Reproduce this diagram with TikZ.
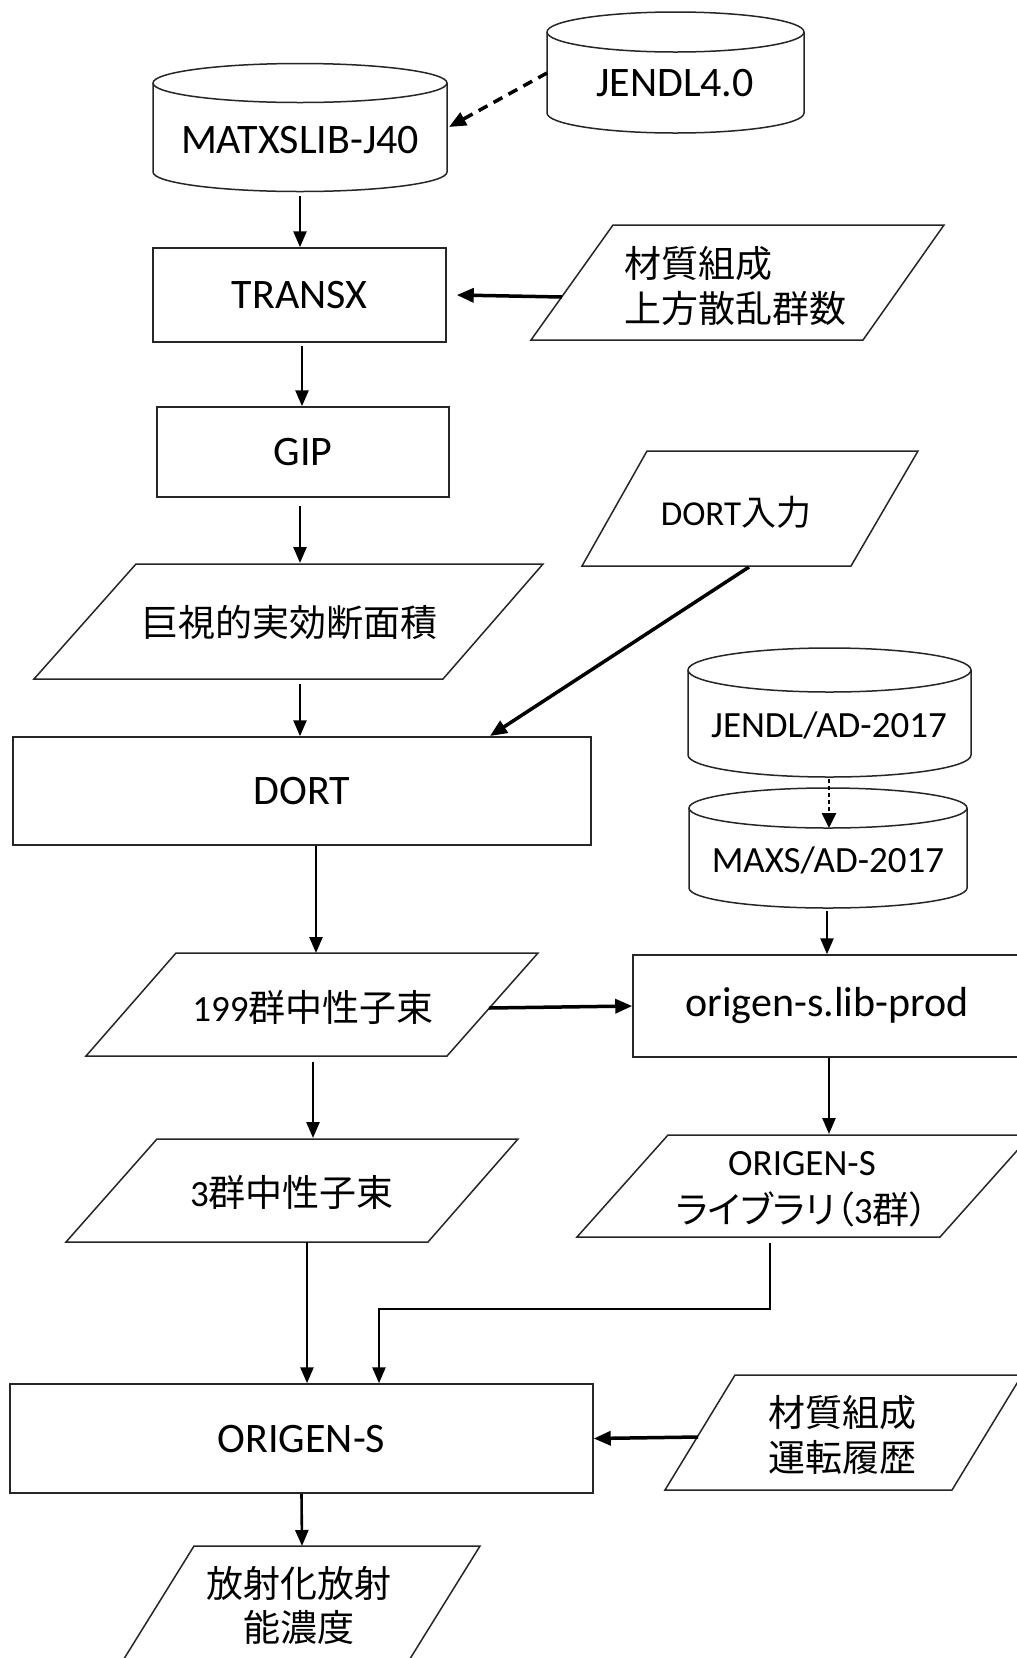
\documentclass[tikz,border=0pt]{standalone}
\usepackage{fontspec}
\setmainfont{Carlito}
\newfontfamily\jp{Noto Sans CJK JP}
\newfontfamily\jpprop[RawFeature=+palt]{Noto Sans CJK JP}
\usetikzlibrary{arrows.meta,calc}

\tikzset{
  outline/.style={draw=black!85, line width=1.5pt},
  boxnode/.style={outline, rectangle, inner sep=0pt},
  lbl/.style={font=\fontsize{42}{50}\selectfont, inner sep=0pt, align=center},
  smlbl/.style={font=\fontsize{37}{44}\selectfont, inner sep=0pt, align=center},
  jlbl/.style={font=\jp\fontsize{37}{45}\selectfont, inner sep=0pt, align=center},
  arr/.style={line width=2.6pt, -{Triangle[length=16pt,width=13pt]}},
  heavyarr/.style={line width=3.5pt, -{Triangle[length=17pt,width=14pt]}},
}

% cylinder outline: centre x, top ellipse y, bottom ellipse y, x radius, y radius
\newcommand\dbcyl[5]{%
  \draw[outline] (#1-#4,#2) -- (#1-#4,#3)
    arc[start angle=180,end angle=360,x radius=#4pt,y radius=#5pt]
    -- (#1+#4,#2)
    arc[start angle=0,end angle=180,x radius=#4pt,y radius=#5pt] -- cycle;
  \draw[outline] (#1-#4,#2) arc[start angle=180,end angle=360,x radius=#4pt,y radius=#5pt];
}
% parallelogram: top-left x, top-right x, top y, bottom-left x, bottom-right x, bottom y
\newcommand\slab[6]{%
  \draw[outline] (#1,#3) -- (#2,#3) -- (#5,#6) -- (#4,#6) -- cycle;
}

\begin{document}
\begin{tikzpicture}[x=1pt,y=-1pt]
\fill[white] (0,0) rectangle (1017,1658);
\useasboundingbox (0,0) rectangle (1017,1658);

% ---- nuclear data libraries ----
\dbcyl{675.5}{32}{113}{128.5}{20}
\node[lbl] (jendl) at (675,83) {JENDL4.0};
\coordinate (jendl-w) at (547,73);

\dbcyl{300}{83}{172}{147}{19.5}
\node[lbl] (matx) at (300,140) {MATXSLIB-J40};
\coordinate (matx-e) at (449,127);
\coordinate (matx-s) at (300,196);

\dbcyl{829.5}{670}{755}{141.5}{22}
\node[smlbl] (jad) at (829,725) {JENDL/AD-2017};
\coordinate (jad-s) at (829,779);

\dbcyl{828}{808}{888}{139}{20}
\node[smlbl] (maxs) at (828,860) {MAXS/AD-2017};
\coordinate (maxs-n) at (829,828);
\coordinate (maxs-s) at (827,911);

% ---- processing steps ----
\node[boxnode, minimum width=293pt, minimum height=94pt, lbl] (transx) at (299.5,295) {TRANSX};
\node[boxnode, minimum width=292pt, minimum height=90pt, lbl] (gip) at (303,452) {GIP};
\node[boxnode, minimum width=578pt, minimum height=108pt, lbl] (dort) at (302,791) {DORT};
\node[boxnode, minimum width=388pt, minimum height=102pt, lbl] (prod) at (827,1006) {origen-s.lib-prod};
\node[boxnode, minimum width=583pt, minimum height=109pt, lbl] (origen) at (301.5,1438.5) {ORIGEN-S};

% ---- data sets ----
\slab{613}{944}{225}{531}{863}{340}
\node[jlbl, align=left] (upsc) at (735,286) {材質組成\\上方散乱群数};
\coordinate (upsc-w) at (562,297);

\slab{647}{918}{451}{582}{851}{566}
\node[jlbl, font=\jp\fontsize{35}{42}\selectfont] (dortin) at (736,512) {{\rmfamily DORT}入力};
\coordinate (dortin-s) at (749,567);

\slab{136}{543}{564}{34}{443}{679}
\node[jlbl] (macro) at (289,623) {巨視的実効断面積};
\coordinate (macro-n) at (300,563);
\coordinate (macro-s) at (300,684);

\slab{176}{538}{953}{86}{447}{1056}
\node[jlbl] (flux199) at (313,1007) {{\rmfamily 199}群中性子束};
\coordinate (flux199-n) at (316,953);
\coordinate (flux199-e) at (489,1008);
\coordinate (flux199-s) at (313,1062);

\slab{157}{518}{1139}{66}{428}{1242}
\node[jlbl] (flux3) at (292,1192) {{\rmfamily 3}群中性子束};
\coordinate (flux3-n) at (313,1138);
\coordinate (flux3-s) at (307,1242);

\slab{668}{1031}{1135}{577}{940}{1237}
\node[jlbl, font=\jp\fontsize{37}{48}\selectfont] (olib) at (802,1189)
  {{\rmfamily ORIGEN-S}\\{\jpprop ライブラリ（{\rmfamily 3}群）}};
\coordinate (olib-n) at (829,1134);
\coordinate (olib-s) at (770,1243);
\coordinate (bend) at (379,1309);

\slab{735}{1022}{1375}{665}{952}{1490}
\node[jlbl] (oper) at (842,1435) {材質組成\\運転履歴};
\coordinate (oper-w) at (698,1437);

\slab{194}{480}{1546}{122}{408}{1662}
\node[jlbl, font=\jp\fontsize{37}{44}\selectfont] (act) at (299,1605) {放射化放射\\能濃度};
\coordinate (act-n) at (302,1546);

% ---- connectors ----
\draw[heavyarr, dash pattern=on 10pt off 7pt] (jendl-w) -- (matx-e);
\draw[arr] (matx-s) -- (matx-s |- transx.north);
\draw[heavyarr] (upsc-w) -- ([xshift=10pt]transx.east);
\draw[arr] ([yshift=-3pt,xshift=2.5pt]transx.south) -- ([xshift=2.5pt]transx.south |- gip.north);
\draw[arr] ([yshift=-8pt,xshift=-3pt]gip.south) -- (macro-n);
\draw[arr] (macro-s) -- (macro-s |- dort.north);
\draw[heavyarr] (dortin-s) -- (490,736);
\draw[line width=2.6pt, dash pattern=on 4pt off 3pt, -{Triangle[length=15pt,width=14pt]}] (jad-s) -- (maxs-n);
\draw[arr] (maxs-s) -- (maxs-s |- prod.north);
\draw[arr] ([xshift=14pt]dort.south) -- (flux199-n);
\draw[heavyarr] (flux199-e) -- (prod.west);
\draw[arr] ([xshift=2pt]prod.south) -- (olib-n);
\draw[arr] (flux199-s) -- (flux3-n);
\draw[arr] (flux3-s) -- (flux3-s |- origen.north);
\draw[arr] (olib-s) -- (olib-s |- bend) -- (bend) -- (bend |- origen.north);
\draw[heavyarr] (oper-w) -- (origen.east);
\draw[arr] (origen.south) -- (act-n);
\end{tikzpicture}
\end{document}
